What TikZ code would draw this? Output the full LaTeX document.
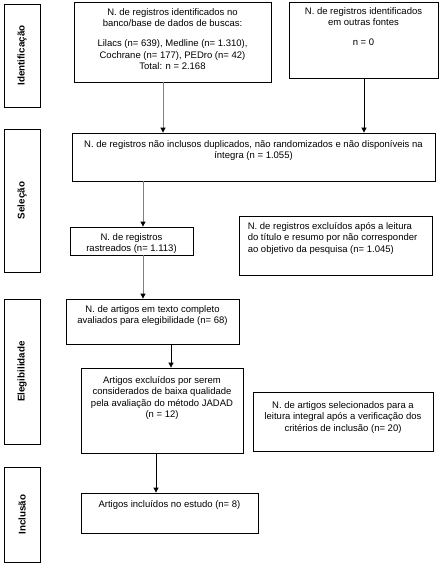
\documentclass[tikz,border=0pt]{standalone}
\usepackage{fontspec}
\setmainfont{Liberation Sans}
\usetikzlibrary{arrows.meta}
\begin{document}
\begin{tikzpicture}[x=1pt,y=-1pt,
  box/.style={draw=black,line width=0.8pt,inner sep=0pt,fill=white},
  side/.style={draw=black,line width=0.8pt,inner sep=0pt,minimum width=36,fill=white},
  sidelab/.style={rotate=90,font=\fontsize{9.8}{11}\selectfont\bfseries},
  txt/.style={inner sep=0pt,anchor=north,align=center,font=\fontsize{9.5}{11.5}\selectfont},
  garr/.style={draw={rgb,255:red,128;green,128;blue,128},line width=0.9pt,-{Triangle[length=5pt,width=5pt,fill=black,color=black]}},
  barr/.style={draw=black,line width=0.8pt,-{Triangle[length=5pt,width=5pt]}}]
\useasboundingbox[fill=white] (0,0) rectangle (440,564);
% side boxes
\node[side,minimum height=103] (s1) at (22,55.5) {};
\node[sidelab] (l1) at (s1.center) {Identificação};
\node[side,minimum height=143] (s2) at (22,200.5) {};
\node[sidelab] (l2) at (s2.center) {Seleção};
\node[side,minimum height=145] (s3) at (22,371.5) {};
\node[sidelab] (l3) at (s3.center) {Elegibilidade};
\node[side,minimum height=95] (s4) at (22,514.5) {};
\node[sidelab] (l4) at (s4.center) {Inclusão};
% main boxes
\node[box,minimum width=197,minimum height=80] (b1) at (172.5,42) {};
\node[txt] (t1) at ([yshift=-6.5]b1.north) {N. de registros identificados no\\banco/base de dados de buscas:\\[8.5pt]Lilacs (n= 639), Medline (n= 1.310),\\Cochrane (n= 177), PEDro (n= 42)\\Total: n = 2.168};
\node[box,minimum width=149,minimum height=76] (b2) at (363.5,40) {};
\node[txt] (t2) at ([yshift=-5.5]b2.north) {N. de registros identificados\\em outras fontes\\[8.5pt]n = 0};
\node[box,minimum width=363,minimum height=48] (b3) at (253.5,157) {};
\node[txt] (t3) at ([yshift=-7.5]b3.north) {N. de registros não inclusos duplicados, não randomizados e não disponíveis na\\íntegra (n = 1.055)};
\node[box,minimum width=123,minimum height=28] (b4) at (131.5,241) {};
\node[txt] (t4) at ([yshift=-6.5]b4.north) {N. de registros\\rastreados (n= 1.113)};
\node[box,minimum width=193,minimum height=59] (b5) at (335.5,245.5) {};
\node[txt,anchor=north west,align=left] (t5) at ([xshift=9,yshift=-6.5]b5.north west) {N. de registros excluídos após a leitura\\do título e resumo por não corresponder\\ao objetivo da pesquisa (n= 1.045)};
\node[box,minimum width=173,minimum height=45] (b6) at (152.5,321.5) {};
\node[txt] (t6) at ([yshift=-6.5]b6.north) {N. de artigos em texto completo\\avaliados para elegibilidade (n= 68)};
\node[box,minimum width=162,minimum height=85] (b7) at (162,410.5) {};
\node[txt] (t7) at ([yshift=-8.5]b7.north) {Artigos excluídos por serem\\considerados de baixa qualidade\\pela avaliação do método JADAD\\(n = 12)};
\node[box,minimum width=180,minimum height=59] (b8) at (343,421.5) {};
\node[txt] (t8) at ([yshift=-9.5]b8.north) {N. de artigos selecionados para a\\leitura integral após a verificação dos\\critérios de inclusão (n= 20)};
\node[box,minimum width=177,minimum height=40] (b9) at (169.5,513) {};
\node[txt] (t9) at ([yshift=-8]b9.north) {Artigos incluídos no estudo (n= 8)};
% arrow columns
\coordinate (c1) at (163,0);
\coordinate (c2) at (364,0);
\coordinate (c3) at (143,0);
\coordinate (c5) at (171,0);
\coordinate (c6) at (156,0);
\draw[garr] (b1.south -| c1) -- (b3.north -| c1);
\draw[barr] (b2.south -| c2) -- (b3.north -| c2);
\draw[garr] (b3.south -| c3) -- (b4.north -| c3);
\draw[garr] (b4.south -| c3) -- (b6.north -| c3);
\draw[barr] (b6.south -| c5) -- (b7.north -| c5);
\draw[barr] (b7.south -| c6) -- (b9.north -| c6);
\end{tikzpicture}
\end{document}
